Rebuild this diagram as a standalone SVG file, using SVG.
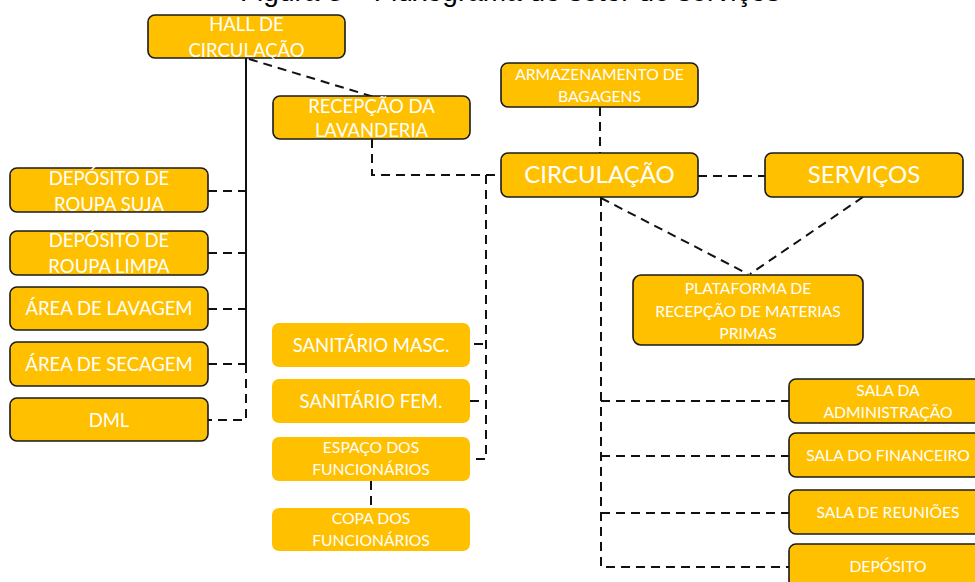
<svg xmlns="http://www.w3.org/2000/svg" width="975" height="582" viewBox="0 0 975 582">
<style>
.b{fill:#FFC000;stroke:#1a1a1a;stroke-width:1.6}
.n{fill:#FFC000;stroke:none}
text{font-family:Lato,"Liberation Sans",sans-serif;fill:#ffffff;text-anchor:middle}
.t20{font-size:18.5px}
.t17{font-size:15.7px}
.t26{font-size:24px}
.c line,.c polyline{fill:none;stroke:#111;stroke-width:2}
.d{stroke-dasharray:9,6}
.title{font-family:"Liberation Sans",sans-serif;fill:#000;font-size:28px;text-anchor:start}
</style>
<rect width="975" height="582" fill="#ffffff"/>
<text class="title" x="240" y="0.5">Figura 3 – Fluxograma do setor de serviços</text>
<g id="connectors" class="c">
<line x1="246" y1="58" x2="246" y2="364"/>
<polyline class="d" points="246,364 246,420 208,420"/>
<line class="d" x1="208" y1="191" x2="246" y2="191"/>
<line class="d" x1="208" y1="253" x2="246" y2="253"/>
<line class="d" x1="208" y1="309" x2="246" y2="309"/>
<line class="d" x1="208" y1="364" x2="246" y2="364"/>
<line class="d" x1="249" y1="59" x2="374" y2="97"/>
<polyline class="d" points="372,139 372,175 501,175"/>
<polyline class="d" points="486,175 486,459 470,459"/>
<line class="d" x1="474" y1="344" x2="486" y2="344"/>
<line class="d" x1="470" y1="401" x2="486" y2="401"/>
<line class="d" x1="371" y1="481" x2="371" y2="508"/>
<line class="d" x1="600" y1="107" x2="600" y2="153"/>
<line class="d" x1="698" y1="176" x2="765" y2="176"/>
<line class="d" x1="601" y1="198" x2="748" y2="274"/>
<line class="d" x1="863" y1="197" x2="750" y2="274"/>
<polyline class="d" points="601,197 601,567 789,567"/>
<line class="d" x1="601" y1="401" x2="789" y2="401"/>
<line class="d" x1="601" y1="456" x2="789" y2="456"/>
<line class="d" x1="601" y1="513" x2="789" y2="513"/>
</g>
<g id="hall"><rect class="b" x="148" y="15" width="197" height="43" rx="7"/><text class="t20" x="246.5" y="31">HALL DE</text><text class="t20" x="246.5" y="57">CIRCULAÇÃO</text></g>
<g id="recepcao"><rect class="b" x="273" y="96" width="197" height="43" rx="7"/><text class="t20" x="371.5" y="113">RECEPÇÃO DA</text><text class="t20" x="371.5" y="137">LAVANDERIA</text></g>
<g id="dep-suja"><rect class="b" x="10" y="168" width="198" height="44" rx="7"/><text class="t20" x="109" y="185">DEPÓSITO DE</text><text class="t20" x="109" y="211">ROUPA SUJA</text></g>
<g id="dep-limpa"><rect class="b" x="10" y="231" width="198" height="44" rx="7"/><text class="t20" x="109" y="247">DEPÓSITO DE</text><text class="t20" x="109" y="273">ROUPA LIMPA</text></g>
<g id="lavagem"><rect class="b" x="10" y="287" width="198" height="43" rx="7"/><text class="t20" x="109" y="315">ÁREA DE LAVAGEM</text></g>
<g id="secagem"><rect class="b" x="10" y="342" width="198" height="44" rx="7"/><text class="t20" x="109" y="371">ÁREA DE SECAGEM</text></g>
<g id="dml"><rect class="b" x="10" y="398" width="198" height="43" rx="7"/><text class="t20" x="109" y="427">DML</text></g>
<g id="san-masc"><rect class="n" x="272" y="323" width="198" height="44" rx="7"/><text class="t20" x="371" y="352">SANITÁRIO MASC.</text></g>
<g id="san-fem"><rect class="n" x="272" y="379" width="198" height="44" rx="7"/><text class="t20" x="371" y="408">SANITÁRIO FEM.</text></g>
<g id="espaco"><rect class="n" x="272" y="437" width="198" height="44" rx="7"/><text class="t17" x="371" y="453">ESPAÇO DOS</text><text class="t17" x="371" y="475">FUNCIONÁRIOS</text></g>
<g id="copa"><rect class="n" x="272" y="508" width="198" height="43" rx="7"/><text class="t17" x="371" y="524">COPA DOS</text><text class="t17" x="371" y="546">FUNCIONÁRIOS</text></g>
<g id="armazenamento"><rect class="b" x="501" y="63" width="197" height="44" rx="7"/><text class="t17" x="599.5" y="80">ARMAZENAMENTO DE</text><text class="t17" x="599.5" y="102">BAGAGENS</text></g>
<g id="circulacao"><rect class="b" x="501" y="153" width="197" height="44" rx="7"/><text class="t26" x="599.5" y="183">CIRCULAÇÃO</text></g>
<g id="servicos"><rect class="b" x="765" y="153" width="198" height="44" rx="7"/><text class="t26" x="864" y="183">SERVIÇOS</text></g>
<g id="plataforma"><rect class="b" x="633" y="275" width="230" height="70" rx="8"/><text class="t17" x="748" y="294">PLATAFORMA DE</text><text class="t17" x="748" y="317">RECEPÇÃO DE MATERIAS</text><text class="t17" x="748" y="339">PRIMAS</text></g>
<g id="administracao"><rect class="b" x="789" y="379" width="198" height="44" rx="7"/><text class="t17" x="888" y="396">SALA DA</text><text class="t17" x="888" y="418">ADMINISTRAÇÃO</text></g>
<g id="financeiro"><rect class="b" x="789" y="433" width="198" height="44" rx="7"/><text class="t17" x="888" y="461">SALA DO FINANCEIRO</text></g>
<g id="reunioes"><rect class="b" x="789" y="490" width="198" height="44" rx="7"/><text class="t17" x="888" y="518">SALA DE REUNIÕES</text></g>
<g id="deposito"><rect class="b" x="789" y="544" width="198" height="44" rx="7"/><text class="t17" x="888" y="572">DEPÓSITO</text></g>
</svg>
